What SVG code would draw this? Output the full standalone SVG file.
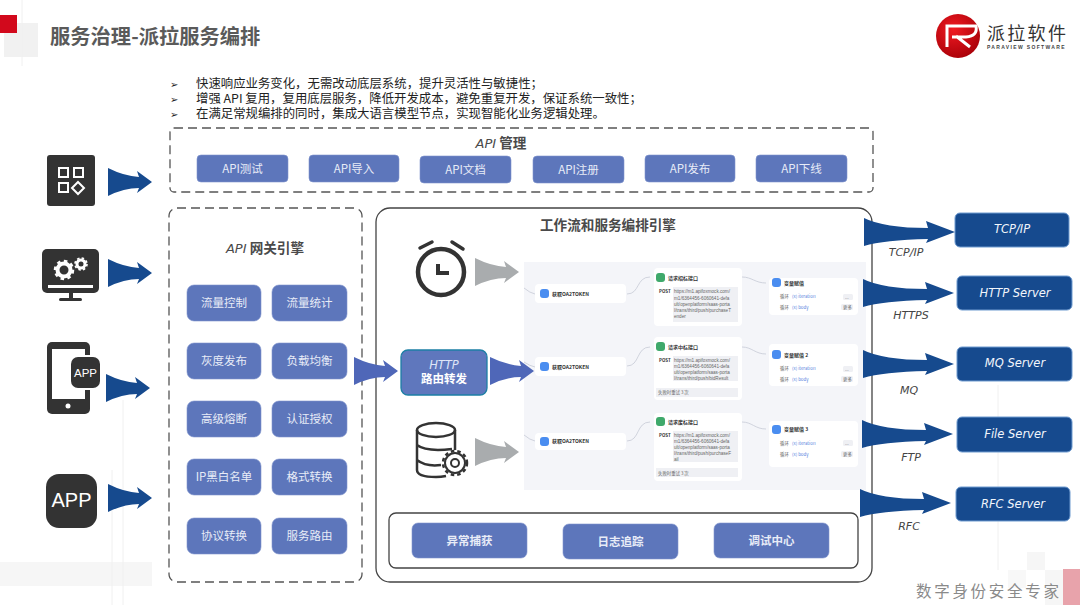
<svg xmlns="http://www.w3.org/2000/svg" width="1080" height="605" viewBox="0 0 1080 605">
<style>
text{font-family:"Noto Sans CJK SC","Liberation Sans",sans-serif}
.btn{fill:#5d76bb;stroke:#7f93cc;stroke-width:.6}
.bt{fill:#e8ecf7;font-size:11.5px;text-anchor:middle}
.dash{fill:none;stroke:#555;stroke-width:1.3;stroke-dasharray:9 5}
.srv{fill:#164a8e;stroke:#6f9bd0;stroke-width:1}
.st{fill:#f2f6fc;font-family:"DejaVu Sans",sans-serif;font-style:oblique;font-size:11.5px;text-anchor:middle}
.pl{fill:#444;font-family:"DejaVu Sans",sans-serif;font-style:oblique;font-size:11px;text-anchor:middle}
.bul{font-size:12.4px;fill:#222}
.mk{font-size:10px;fill:#222;font-family:"DejaVu Sans",sans-serif}
.card{fill:#fff}
.ct{font-size:5px;fill:#333;font-weight:700}
.u{font-size:4.6px;fill:#666;font-family:"Liberation Sans",sans-serif}
.ub{fill:#eff0f4}
.m{font-size:4.4px;fill:#666}
.v{font-size:4.4px;fill:#5a84e0}
.ic{fill:#4a8df0}
.ig{fill:#3fa96b}
.flow{fill:none;stroke:#c6cad6;stroke-width:.8}
.ink{fill:#333}
.h{font-size:13.600px;font-weight:700;fill:#4a4a4a;text-anchor:middle}
.ap{font-family:"DejaVu Sans",sans-serif;font-style:oblique;font-weight:400;font-size:13px}
</style>
<defs>
<path id="a" d="M0,-14Q16,-6 31,-5L29,-11L44,0L29,11L31,6Q16,6 0,14Z"/>
<path id="b" d="M0,-14Q20,-4 64,-4L62,-11L91,0L62,11L64,7Q20,8 0,14Z"/>
<radialGradient id="lg" cx=".4" cy=".35" r=".7"><stop offset="0" stop-color="#f01a22"/><stop offset="1" stop-color="#a80008"/></radialGradient>
</defs>
<rect width="1080" height="605" fill="#fff"/>
<g id="backdrop">
<rect x="4" y="23" width="34" height="34" fill="#f1f1f1"/>
<rect x="0" y="15" width="17" height="18" fill="#d2091c"/>
<rect x="0" y="562" width="152" height="24" fill="#f6f6f6"/>
<path d="M22,0V66M123,400V605M112,470V605M998,385V570" stroke="#f0f0f0" fill="none"/>
<rect x="1027" y="552" width="18" height="18" fill="#f6f6f6"/>
<rect x="1008" y="570" width="18" height="18" fill="#f8f8f8"/>
<rect x="1045" y="570" width="18" height="35" fill="#f6f6f6"/>
<rect x="1063" y="569" width="17" height="36" fill="#e8a3ab"/>
<text x="916" y="597" font-size="15.500" letter-spacing="2.700" fill="#8a8a8a">数字身份安全专家</text>
</g>
<text x="50" y="44" font-size="20.300" font-weight="700" fill="#5a5a5a">服务治理-派拉服务编排</text>
<g id="logo">
<circle cx="958" cy="36" r="22" fill="url(#lg)"/>
<path d="M947,47V26H976Q978,36 966,37H952M956,36L970,47" fill="none" stroke="#fff" stroke-width="3"/>
<text x="987" y="40" font-size="18" letter-spacing="2.300" fill="#333">派拉软件</text>
<text x="987" y="49" font-size="5" letter-spacing="1.350" font-weight="700" fill="#444" style="font-family:'Liberation Sans',sans-serif">PARAVIEW SOFTWARE</text>
</g>
<g id="bullets">
<text class="mk" x="170" y="88">➢</text>
<text class="bul" x="196" y="88">快速响应业务变化，无需改动底层系统，提升灵活性与敏捷性；</text>
<text class="mk" x="170" y="103">➢</text>
<text class="bul" x="196" y="103">增强 API 复用，复用底层服务，降低开发成本，避免重复开发，保证系统一致性；</text>
<text class="mk" x="170" y="118">➢</text>
<text class="bul" x="196" y="118">在满足常规编排的同时，集成大语言模型节点，实现智能化业务逻辑处理。</text>
</g>
<g id="icon-apps">
<rect x="47" y="155" width="48" height="51" rx="3" class="ink"/>
<g fill="none" stroke="#fff" stroke-width="2"><rect x="59" y="168" width="9" height="9"/><rect x="74" y="168" width="9" height="9"/><rect x="59" y="183" width="9" height="9"/><path d="M78,182L84,188L78,194L72,188Z"/></g>
</g>
<g id="icon-monitor">
<rect x="42" y="249" width="57" height="44" rx="5" class="ink"/>
<rect x="48" y="285" width="45" height="3" fill="#fff"/>
<rect x="69" y="293" width="4" height="6" class="ink"/><rect x="59" y="298" width="23" height="3" rx="1.500" class="ink"/>
<circle cx="64" cy="270" r="6.500" fill="none" stroke="#fff" stroke-width="4"/><circle cx="64" cy="270" r="9" fill="none" stroke="#fff" stroke-width="2.500" stroke-dasharray="3.500 3.500"/>
<circle cx="81" cy="264" r="4" fill="none" stroke="#fff" stroke-width="3"/><circle cx="81" cy="264" r="6" fill="none" stroke="#fff" stroke-width="1.600" stroke-dasharray="2.500 2.200"/>
</g>
<g id="icon-phone">
<rect x="47" y="342" width="43" height="72" rx="5" class="ink"/>
<rect x="52" y="349" width="33" height="50" fill="#fff"/>
<circle cx="68" cy="406" r="2.500" fill="#fff"/>
<rect x="69" y="355" width="33" height="35" rx="7" fill="#fff"/>
<rect x="71" y="357" width="29" height="31" rx="7" class="ink"/>
<text x="85.500" y="377" font-size="11.500" fill="#fff" text-anchor="middle" style="font-family:'Liberation Sans',sans-serif">APP</text>
</g>
<g id="icon-app">
<rect x="46" y="474" width="51" height="54" rx="13" class="ink"/>
<text x="71.500" y="507" font-size="20" fill="#fff" text-anchor="middle" style="font-family:'Liberation Sans',sans-serif">APP</text>
</g>
<g id="api-manage">
<rect x="170" y="128" width="703" height="64" rx="4" class="dash"/>
<text class="h" x="501" y="148"><tspan class="ap">API</tspan> 管理</text>
<rect class="btn" x="197" y="155" width="91" height="27" rx="4"/><text class="bt" x="242.500" y="173">API测试</text>
<rect class="btn" x="309" y="155" width="90" height="27" rx="4"/><text class="bt" x="354" y="173">API导入</text>
<rect class="btn" x="420" y="156" width="91" height="27" rx="4"/><text class="bt" x="465.500" y="174">API文档</text>
<rect class="btn" x="533" y="156" width="91" height="27" rx="4"/><text class="bt" x="578.500" y="174">API注册</text>
<rect class="btn" x="645" y="155" width="90" height="27" rx="4"/><text class="bt" x="690" y="173">API发布</text>
<rect class="btn" x="756" y="155" width="91" height="27" rx="4"/><text class="bt" x="801.500" y="173">API下线</text>
</g>
<g id="gateway">
<rect x="169" y="208" width="193" height="374" rx="8" class="dash"/>
<text class="h" x="265" y="253"><tspan class="ap">API</tspan> 网关引擎</text>
<rect class="btn" x="187" y="285" width="74" height="36" rx="7"/><text class="bt" x="224" y="307">流量控制</text>
<rect class="btn" x="272" y="285" width="75" height="36" rx="7"/><text class="bt" x="309.500" y="307">流量统计</text>
<rect class="btn" x="187" y="343" width="74" height="36" rx="7"/><text class="bt" x="224" y="365">灰度发布</text>
<rect class="btn" x="272" y="343" width="75" height="36" rx="7"/><text class="bt" x="309.500" y="365">负载均衡</text>
<rect class="btn" x="187" y="401" width="74" height="36" rx="7"/><text class="bt" x="224" y="423">高级熔断</text>
<rect class="btn" x="272" y="401" width="75" height="36" rx="7"/><text class="bt" x="309.500" y="423">认证授权</text>
<rect class="btn" x="187" y="459" width="74" height="36" rx="7"/><text class="bt" x="224" y="481">IP黑白名单</text>
<rect class="btn" x="272" y="459" width="75" height="36" rx="7"/><text class="bt" x="309.500" y="481">格式转换</text>
<rect class="btn" x="187" y="518" width="74" height="36" rx="7"/><text class="bt" x="224" y="540">协议转换</text>
<rect class="btn" x="272" y="518" width="75" height="36" rx="7"/><text class="bt" x="309.500" y="540">服务路由</text>
</g>
<g id="engine">
<rect x="376" y="208" width="496" height="374" rx="14" fill="#fff" stroke="#444" stroke-width="1.300"/>
<text class="h" x="608" y="230">工作流和服务编排引擎</text>
<rect x="524" y="262" width="342" height="228" fill="#f4f5f9"/>
</g>
<g id="icon-clock" fill="none" stroke="#333">
<circle cx="441" cy="272" r="23" stroke-width="4.500"/>
<path d="M420,248L432,242M452,242L463,249" stroke-width="3.500" stroke-linecap="round"/>
<path d="M438,264V273H449" stroke-width="4"/>
</g>
<g id="icon-db" fill="none" stroke="#333" stroke-width="2.500">
<ellipse cx="436" cy="430" rx="19" ry="7"/>
<path d="M417,430V470Q417,477 436,477Q441,477 446,476M455,430V450M417,445Q426,452 452,449M417,460Q426,467 441,465"/>
<circle cx="455" cy="463" r="10" fill="#fff" stroke-width="2"/><circle cx="455" cy="463" r="12" stroke-width="2.500" stroke-dasharray="3.500 3"/><circle cx="455" cy="463" r="4" stroke-width="2"/>
</g>
<g id="http-route">
<rect x="401" y="350" width="86" height="45" rx="7" fill="#5f77bd" stroke="#1d7fa5" stroke-width="1.300"/>
<text x="444" y="369" font-size="11.500" fill="#dfe6f7" text-anchor="middle" style="font-family:'DejaVu Sans',sans-serif;font-style:oblique">HTTP</text>
<text x="444" y="383" font-size="11.500" font-weight="700" fill="#fff" text-anchor="middle">路由转发</text>
</g>
<g id="flow-1">
<rect class="card" x="535" y="284" width="91" height="19" rx="4"/>
<rect class="ic" x="540" y="289" width="9" height="9" rx="3"/><text class="ct" x="552" y="296">获取OA2TOKEN</text>
<rect class="card" x="654" y="268" width="88" height="58" rx="4"/>
<rect class="ig" x="656" y="273" width="9" height="9" rx="3"/><text class="ct" x="668" y="280">请求招标接口</text>
<text class="ct" x="659" y="293" style="font-size:4.400px">POST</text>
<rect class="ub" x="673" y="287" width="65" height="35"/>
<text class="u"><tspan x="674" y="293">https://m1.apifoxmock.com/</tspan><tspan x="674" y="299.500">m1/6364456-6060641-defa</tspan><tspan x="674" y="305.500">ult/openplatform/saas-porta</tspan><tspan x="674" y="311.500">l/trans/third/push/purchaseT</tspan><tspan x="674" y="318">ender</tspan></text>
<rect class="card" x="769" y="278" width="89" height="37" rx="4"/>
<rect class="ic" x="772" y="278" width="9" height="9" rx="3"/><text class="ct" x="784" y="285">变量赋值</text>
<text class="m" x="780" y="298">循环</text><text class="v" x="792" y="298">(x) iteration</text>
<text class="m" x="780" y="309">循环</text><text class="v" x="792" y="309">(x) body</text>
<rect class="ub" x="843" y="294" width="10" height="6" rx="1.500"/><rect class="ub" x="841" y="304" width="12" height="6" rx="1.500"/>
<text class="m" x="845" y="299">...</text><text class="m" x="843" y="309">更多</text>
</g>
<g id="flow-2">
<rect class="card" x="535" y="357" width="91" height="19" rx="4"/>
<rect class="ic" x="540" y="362" width="9" height="9" rx="3"/><text class="ct" x="552" y="369">获取OA2TOKEN</text>
<rect class="card" x="654" y="337" width="88" height="63" rx="4"/>
<rect class="ig" x="656" y="342" width="9" height="9" rx="3"/><text class="ct" x="668" y="349">请求中标接口</text>
<text class="ct" x="659" y="362" style="font-size:4.400px">POST</text>
<rect class="ub" x="673" y="356" width="65" height="25"/>
<text class="u"><tspan x="674" y="362">https://m1.apifoxmock.com/</tspan><tspan x="674" y="368">m1/6364456-6060641-defa</tspan><tspan x="674" y="374">ult/openplatform/saas-porta</tspan><tspan x="674" y="380">l/trans/third/push/bidResult</tspan></text>
<rect class="ub" x="656" y="388" width="82" height="9"/><text class="m" x="658" y="394">失败时重试 3 次</text>
<rect class="card" x="769" y="344" width="89" height="42" rx="4"/>
<rect class="ic" x="772" y="350" width="9" height="9" rx="3"/><text class="ct" x="784" y="357">变量赋值 2</text>
<text class="m" x="780" y="370">循环</text><text class="v" x="792" y="370">(x) iteration</text>
<text class="m" x="780" y="381">循环</text><text class="v" x="792" y="381">(x) body</text>
<rect class="ub" x="843" y="366" width="10" height="6" rx="1.500"/><rect class="ub" x="841" y="376" width="12" height="6" rx="1.500"/>
<text class="m" x="845" y="371">...</text><text class="m" x="843" y="381">更多</text>
</g>
<g id="flow-3">
<rect class="card" x="535" y="433" width="91" height="17" rx="4"/>
<rect class="ic" x="540" y="437" width="9" height="9" rx="3"/><text class="ct" x="552" y="443">获取OA2TOKEN</text>
<rect class="card" x="654" y="413" width="88" height="68" rx="4"/>
<rect class="ig" x="656" y="417" width="9" height="9" rx="3"/><text class="ct" x="668" y="424">请求废标接口</text>
<text class="ct" x="659" y="437" style="font-size:4.400px">POST</text>
<rect class="ub" x="673" y="431" width="65" height="31"/>
<text class="u"><tspan x="674" y="437">https://m1.apifoxmock.com/</tspan><tspan x="674" y="443">m1/6364456-6060641-defa</tspan><tspan x="674" y="449">ult/openplatform/saas-porta</tspan><tspan x="674" y="455">l/trans/third/push/purchaseF</tspan><tspan x="674" y="461">ail</tspan></text>
<rect class="ub" x="656" y="468" width="82" height="9"/><text class="m" x="658" y="475">失败时重试 3 次</text>
<rect class="card" x="769" y="421" width="89" height="46" rx="4"/>
<rect class="ic" x="772" y="425" width="9" height="9" rx="3"/><text class="ct" x="784" y="431">变量赋值 3</text>
<text class="m" x="780" y="445">循环</text><text class="v" x="792" y="445">(x) iteration</text>
<text class="m" x="780" y="456">循环</text><text class="v" x="792" y="456">(x) body</text>
<rect class="ub" x="843" y="440" width="10" height="6" rx="1.500"/><rect class="ub" x="841" y="451" width="12" height="6" rx="1.500"/>
<text class="m" x="845" y="445">...</text><text class="m" x="843" y="456">更多</text>
</g>
<g id="tools">
<rect x="389" y="513" width="469" height="55" rx="7" fill="#fff" stroke="#444" stroke-width="1.300"/>
<rect class="btn" x="412" y="523" width="115" height="35" rx="6"/><text class="bt" x="469.500" y="545" font-weight="700">异常捕获</text>
<rect class="btn" x="563" y="524" width="115" height="35" rx="6"/><text class="bt" x="620.500" y="546" font-weight="700">日志追踪</text>
<rect class="btn" x="714" y="523" width="115" height="35" rx="6"/><text class="bt" x="771.500" y="545" font-weight="700">调试中心</text>
</g>
<g id="servers">
<g id="srv-tcp"><rect class="srv" x="955" y="213" width="114" height="34" rx="5"/><text class="st" x="1012" y="233">TCP/IP</text></g>
<g id="srv-http"><rect class="srv" x="957" y="276" width="115" height="34" rx="5"/><text class="st" x="1015" y="297">HTTP Server</text></g>
<g id="srv-mq"><rect class="srv" x="957" y="347" width="115" height="34" rx="5"/><text class="st" x="1015" y="367">MQ Server</text></g>
<g id="srv-file"><rect class="srv" x="957" y="417" width="115" height="35" rx="5"/><text class="st" x="1015" y="438">File Server</text></g>
<g id="srv-rfc"><rect class="srv" x="956" y="487" width="114" height="34" rx="5"/><text class="st" x="1013" y="508">RFC Server</text></g>
</g>
<g id="connectors">
<path class="flow" d="M524,288Q530,293 535,294M627,294C640,294 636,277 650,277M742,277C752,277 755,283 766,283M524,362Q530,366 535,367M627,366C640,366 636,347 650,347M742,347C752,347 755,354 766,354M524,435Q530,440 535,441M627,441C640,441 636,422 650,422M742,422C752,422 755,429 766,429"/>
<g fill="#164a8e">
<use href="#a" x="108" y="182"/><use href="#a" x="108" y="273"/><use href="#a" x="106" y="388"/><use href="#a" x="108" y="498"/>
<use href="#b" x="864" y="232"/><use href="#b" x="863" y="293"/><use href="#b" x="863" y="364"/><use href="#b" x="862" y="434"/><use href="#b" x="860" y="503"/>
</g>
<g fill="#a9acae"><use href="#a" x="475" y="272"/><use href="#a" x="475" y="452"/></g>
<g fill="#4f67b8"><use href="#a" x="354" y="371"/><use href="#a" x="490" y="371"/></g>
</g>
<g id="protocols">
<text class="pl" x="906" y="256">TCP/IP</text>
<text class="pl" x="911" y="319">HTTPS</text>
<text class="pl" x="909" y="394">MQ</text>
<text class="pl" x="911" y="461">FTP</text>
<text class="pl" x="909" y="530">RFC</text>
</g>
</svg>
